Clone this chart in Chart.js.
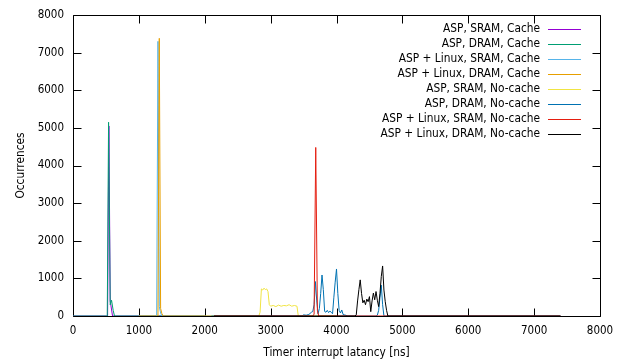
<!DOCTYPE html>
<html>
<head>
<meta charset="utf-8">
<script src="https://cdn.jsdelivr.net/npm/chart.js@4"></script>
<style>
html,body{margin:0;padding:0;background:#fff;}
canvas{display:block;}
</style>
</head>
<body>
<canvas id="c" width="618" height="363"></canvas>
<script>
// ---- data (latency in ns, occurrences) ----
const seriesNames = [
  "ASP, SRAM, Cache",
  "ASP, DRAM, Cache",
  "ASP + Linux, SRAM, Cache",
  "ASP + Linux, DRAM, Cache",
  "ASP, SRAM, No-cache",
  "ASP, DRAM, No-cache",
  "ASP + Linux, SRAM, No-cache",
  "ASP + Linux, DRAM, No-cache"
];
const aspSramCacheX = [0, 505, 525, 545, 565, 600, 2000];
const aspSramCacheY = [0, 0, 0, 5050, 400, 0, 0];
const aspDramCacheX = [0, 500, 520, 540, 565, 585, 610, 630, 2000];
const aspDramCacheY = [0, 0, 0, 5150, 300, 420, 150, 0, 0];
const linuxSramCacheX = [1000, 1250, 1270, 1290, 1310, 1330, 1350, 2100];
const linuxSramCacheY = [0, 0, 0, 7300, 250, 80, 0, 0];
const linuxDramCacheX = [1000, 1270, 1290, 1310, 1330, 1350, 1370, 2140];
const linuxDramCacheY = [0, 0, 0, 7380, 200, 60, 0, 0];
const aspSramNoCacheX = [2100, 2820, 2840, 2860, 2880, 2900, 2920, 2940, 2960, 2980, 3000, 3040, 3080, 3120, 3160, 3200, 3240, 3280, 3320, 3360, 3400, 3420, 4000];
const aspSramNoCacheY = [0, 0, 100, 720, 690, 740, 700, 720, 650, 300, 260, 280, 250, 290, 260, 280, 270, 300, 260, 280, 260, 0, 0];
const aspDramNoCacheX = [2100, 3480, 3500, 3540, 3580, 3620, 3640, 3660, 3680, 3700, 3720, 3740, 3760, 3780, 3800, 3820, 3840, 3860, 3880, 3900, 3920, 3940, 3960, 3980, 4000, 4020, 4040, 4060, 4080, 4100, 4120, 4140, 4160, 4180, 4600, 4620, 4640, 4660, 4680, 4700, 4720, 4740, 7400];
const aspDramNoCacheY = [0, 0, 30, 20, 40, 100, 120, 300, 915, 400, 60, 200, 600, 1090, 700, 120, 100, 150, 90, 130, 100, 60, 500, 900, 1250, 600, 150, 80, 160, 40, 30, 20, 0, 0, 0, 20, 150, 500, 820, 300, 0, 0, 0];
const linuxSramNoCacheX = [2140, 3640, 3660, 3685, 3710, 3730, 7400];
const linuxSramNoCacheY = [0, 0, 50, 4480, 150, 0, 0];
const linuxDramNoCacheX = [2140, 4280, 4300, 4320, 4340, 4360, 4380, 4400, 4420, 4440, 4460, 4480, 4500, 4520, 4540, 4560, 4580, 4600, 4620, 4640, 4660, 4680, 4700, 4720, 4740, 4760, 4780, 7400];
const linuxDramNoCacheY = [0, 0, 30, 400, 700, 960, 600, 350, 420, 300, 450, 380, 515, 115, 400, 610, 430, 650, 420, 250, 600, 1050, 1330, 690, 380, 150, 0, 0];
const xTicks = [0, 1000, 2000, 3000, 4000, 5000, 6000, 7000, 8000];
const yTicks = [0, 1000, 2000, 3000, 4000, 5000, 6000, 7000, 8000];

const xs = [aspSramCacheX, aspDramCacheX, linuxSramCacheX, linuxDramCacheX, aspSramNoCacheX, aspDramNoCacheX, linuxSramNoCacheX, linuxDramNoCacheX];
const ys = [aspSramCacheY, aspDramCacheY, linuxSramCacheY, linuxDramCacheY, aspSramNoCacheY, aspDramNoCacheY, linuxSramNoCacheY, linuxDramNoCacheY];
const colors = ["#9400d3", "#009e73", "#56b4e9", "#e69f00", "#f0e442", "#0072b2", "#e51e10", "#000000"];

const FONT = "'DejaVu Sans Condensed', 'DejaVu Sans', sans-serif";

const datasets = seriesNames.map((n, i) => ({
  label: n,
  data: xs[i].map((x, k) => ({x: x, y: ys[i][k]})),
  borderColor: colors[i],
  backgroundColor: colors[i],
  borderWidth: 1,
  pointRadius: 0,
  tension: 0,
  fill: false,
  order: seriesNames.length - i
}));

const plotFrame = {
  id: 'plotFrame',
  beforeDatasetsDraw(chart) {
    const ctx = chart.ctx, a = chart.chartArea, sx = chart.scales.x, sy = chart.scales.y;
    ctx.save();
    ctx.strokeStyle = '#000';
    ctx.lineWidth = 1;
    const L = Math.round(a.left) + 0.5, R = Math.round(a.right) + 0.5, T = Math.round(a.top) + 0.5, B = Math.round(a.bottom) + 0.5;
    ctx.beginPath();
    ctx.moveTo(L, T); ctx.lineTo(R, T); ctx.lineTo(R, B); ctx.lineTo(L, B); ctx.closePath();
    ctx.stroke();
    const tl = 8;
    ctx.beginPath();
    xTicks.forEach(v => {
      const px = Math.round(sx.getPixelForValue(v)) + 0.5;
      ctx.moveTo(px, B); ctx.lineTo(px, B - tl);
      ctx.moveTo(px, T); ctx.lineTo(px, T + tl);
    });
    yTicks.forEach(v => {
      const py = Math.round(sy.getPixelForValue(v)) + 0.5;
      ctx.moveTo(L, py); ctx.lineTo(L + tl, py);
      ctx.moveTo(R, py); ctx.lineTo(R - tl, py);
    });
    ctx.stroke();
    ctx.restore();
  }
};

const keyBox = {
  id: 'keyBox',
  afterDraw(chart) {
    const ctx = chart.ctx;
    ctx.save();
    ctx.font = "11.8px " + FONT;
    ctx.textAlign = 'right';
    ctx.textBaseline = 'middle';
    seriesNames.forEach((n, i) => {
      const y = 29 + i * 15;
      ctx.fillStyle = '#000';
      ctx.fillText(n, 540, y);
      ctx.strokeStyle = colors[i];
      ctx.lineWidth = 1;
      ctx.beginPath();
      ctx.moveTo(548, Math.round(y) + 0.5);
      ctx.lineTo(581, Math.round(y) + 0.5);
      ctx.stroke();
    });
    ctx.restore();
  }
};

new Chart(document.getElementById('c'), {
  type: 'line',
  data: {datasets},
  options: {
    responsive: false,
    animation: false,
    devicePixelRatio: 1,
    layout: {padding: {left: 0, top: 15, right: 18, bottom: 0}},
    plugins: {legend: {display: false}, tooltip: {enabled: false}},
    scales: {
      x: {
        type: 'linear', min: 0, max: 8000,
        afterBuildTicks: s => { s.ticks = xTicks.map(v => ({value: v})); },
        afterFit: s => { s.height = 47; s.paddingLeft = 0; s.paddingRight = 0; },
        grid: {display: false, drawTicks: false},
        border: {display: false},
        ticks: {color: '#000', font: {family: FONT, size: 11.5}, padding: 8, maxRotation: 0, callback: v => String(v)},
        title: {display: true, text: 'Timer interrupt latancy [ns]', color: '#000', font: {family: FONT, size: 11.8}, padding: {top: 0, bottom: 3}}
      },
      y: {
        type: 'linear', min: 0, max: 8000,
        afterBuildTicks: s => { s.ticks = yTicks.map(v => ({value: v})); },
        afterFit: s => { s.width = 73; s.paddingTop = 0; s.paddingBottom = 0; },
        grid: {display: false, drawTicks: false},
        border: {display: false},
        ticks: {color: '#000', font: {family: FONT, size: 11.5}, padding: 9, callback: v => String(v)},
        title: {display: true, text: 'Occurrences', color: '#000', font: {family: FONT, size: 11.8}, padding: {top: 14, bottom: 0}}
      }
    }
  },
  plugins: [plotFrame, keyBox]
});
</script>
</body>
</html>
